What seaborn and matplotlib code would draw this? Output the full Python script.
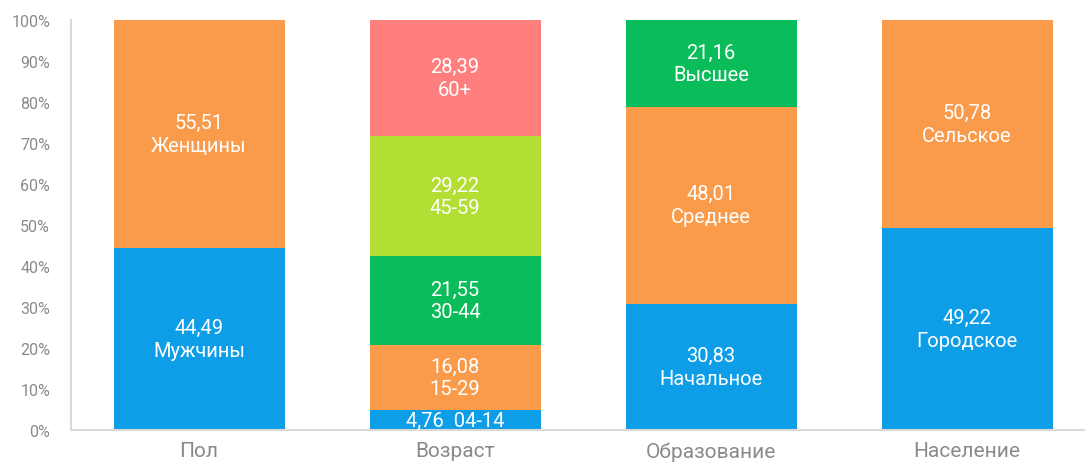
import matplotlib
matplotlib.use("Agg")
import matplotlib.pyplot as plt
import seaborn as sns
import pandas as pd

categories = ["Пол", "Возраст", "Образование", "Население"]

# segments: (category, value, label, colour)
seg_category = ["Пол", "Пол",
                "Возраст", "Возраст", "Возраст", "Возраст", "Возраст",
                "Образование", "Образование", "Образование",
                "Население", "Население"]
seg_values = [44.49, 55.51,
              4.76, 16.08, 21.55, 29.22, 28.39,
              30.83, 48.01, 21.16,
              49.22, 50.78]
seg_labels = ["Мужчины", "Женщины",
              "04-14", "15-29", "30-44", "45-59", "60+",
              "Начальное", "Среднее", "Высшее",
              "Городское", "Сельское"]
seg_colors = ["#0E9EE8", "#F99B4B",
              "#0E9EE8", "#F99B4B", "#0BBC5A", "#B3DE34", "#FF7F7F",
              "#0E9EE8", "#F99B4B", "#0BBC5A",
              "#0E9EE8", "#F99B4B"]
y_ticks = [0, 10, 20, 30, 40, 50, 60, 70, 80, 90, 100]

sns.set_theme(style="white")
plt.rcParams["font.family"] = ["Roboto", "DejaVu Sans"]

fig = plt.figure(figsize=(10.85, 4.64), dpi=100)
ax = fig.add_axes([71 / 1085, (464 - 431) / 464, (1085 - 71) / 1085, 410 / 464])

bar_w = 171 / 256
bottoms = {c: 0.0 for c in categories}
for cat, val, lab, col in zip(seg_category, seg_values, seg_labels, seg_colors):
    b = bottoms[cat]
    df = pd.DataFrame({"cat": [cat], "val": [val]})
    sns.barplot(data=df, x="cat", y="val", order=categories, color=col,
                bottom=b, width=bar_w, ax=ax, errorbar=None,
                saturation=1, linewidth=0)
    xi = categories.index(cat)
    num = f"{val:.2f}".replace(".", ",")
    mid = b + val / 2
    if val < 8:
        ax.text(xi, mid, f"{num}  {lab}", ha="center", va="center",
                color="white", fontsize=14.5)
    else:
        ax.text(xi, mid, f"{num}\n{lab}", ha="center", va="center",
                color="white", fontsize=14.5, linespacing=1.25)
    bottoms[cat] = b + val

ax.set_xlim(-0.5, -0.5 + 1014 / 256)
ax.set_ylim(0, 100)
ax.set_yticks(y_ticks)
ax.set_yticklabels([f"{t}%" for t in y_ticks])
ax.set_xlabel("")
ax.set_ylabel("")
ax.tick_params(axis="y", length=0, pad=15, labelsize=11.5, labelcolor="#8a8a8a")
ax.tick_params(axis="x", length=0, pad=8, labelsize=15, labelcolor="#8a8a8a")
for s in ["top", "right"]:
    ax.spines[s].set_visible(False)
for s in ["left", "bottom"]:
    ax.spines[s].set_color("#d9d9d9")
    ax.spines[s].set_linewidth(1.5)
ax.grid(False)

fig.savefig("out.png", dpi=100)
